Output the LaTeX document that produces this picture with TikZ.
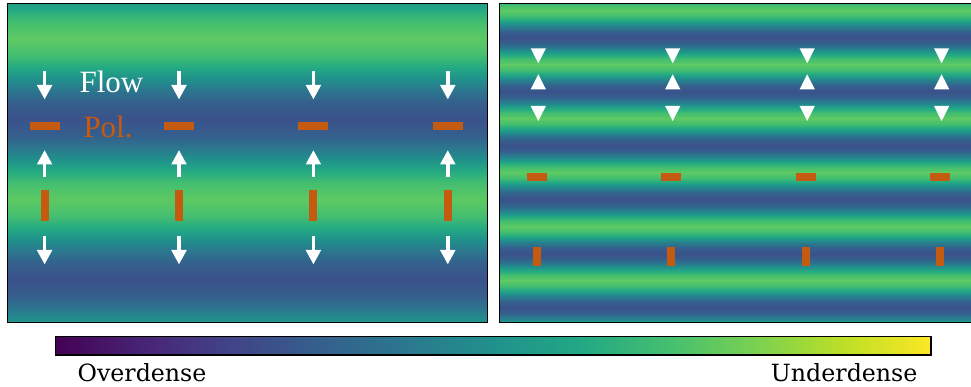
\documentclass[tikz,border=0pt]{standalone}
\usepackage{fontspec}
\setmainfont{Liberation Serif}
\newfontfamily\legendfont{Liberation Serif}
\newfontfamily\labelfont{DejaVu Serif}
\usetikzlibrary{arrows.meta}

% viridis colour map samples
\definecolor{vir00}{RGB}{68,1,84}
\definecolor{vir10}{RGB}{72,36,117}
\definecolor{vir20}{RGB}{65,68,135}
\definecolor{vir30}{RGB}{53,95,141}
\definecolor{vir40}{RGB}{42,120,142}
\definecolor{vir50}{RGB}{33,145,140}
\definecolor{vir60}{RGB}{34,168,132}
\definecolor{vir70}{RGB}{68,191,112}
\definecolor{vir80}{RGB}{122,209,81}
\definecolor{vir90}{RGB}{189,223,38}
\definecolor{vir100}{RGB}{253,231,37}
% extremes of the density field (viridis 0.25 and 0.75)
\definecolor{bandlow}{RGB}{59,82,139}
\definecolor{bandhigh}{RGB}{94,201,98}
\definecolor{polorange}{RGB}{197,90,17}

% half period of a cosine density band, low at the bottom, high at the top
\pgfdeclareverticalshading{bandshade}{100bp}{color(0bp)=(bandlow); color(25bp)=(bandlow);
  color(35.24bp)=(vir30); color(43.45bp)=(vir40); color(50bp)=(vir50);
  color(56.55bp)=(vir60); color(64.76bp)=(vir70); color(75bp)=(bandhigh); color(100bp)=(bandhigh)}

% full viridis bar
\pgfdeclarehorizontalshading{viridisbar}{100bp}{color(0bp)=(vir00); color(25bp)=(vir00);
  color(30bp)=(vir10); color(35bp)=(vir20); color(40bp)=(vir30); color(45bp)=(vir40);
  color(50bp)=(vir50); color(55bp)=(vir60); color(60bp)=(vir70); color(65bp)=(vir80);
  color(70bp)=(vir90); color(75bp)=(vir100); color(100bp)=(vir100)}

\begin{document}
\begin{tikzpicture}[x=1pt,y=-1pt,
  frame/.style={draw=black, line width=1.8pt},
  flowarrow/.style={draw=white, line width=3.5pt, -{Triangle[width=14.5pt,length=14.5pt]}},
  polbar/.style={fill=polorange},
  bandup/.style={shading=bandshade},
  banddown/.style={shading=bandshade, shading angle=180},
  lbl/.style={inner sep=0pt, outer sep=0pt},
  legendtext/.style={lbl, anchor=base west, font=\legendfont\fontsize{31}{36}\selectfont},
  bartext/.style={lbl, font=\labelfont\fontsize{23.7}{28}\selectfont}]
\clip (0,0) rectangle (971,387);
\fill[white] (0,0) rectangle (971,387);

% left panel: long-wavelength density bands
\begin{scope}
  \clip (7.5,3.5) rectangle (487.5,322.5);
  \foreach \g in {-122.5,38.5,199.5}{
    \path[bandup] (7,{\g-0.3}) rectangle (488,{\g+80.8});
    \path[banddown] (7,{\g+80.2}) rectangle (488,{\g+161.3});
  }
\end{scope}

% right panel: short-wavelength density bands
\begin{scope}
  \clip (499.5,3.5) rectangle (971,322.5);
  \foreach \k in {0,...,6}{
    \pgfmathsetmacro\g{10.5+54*\k}
    \path[banddown] (499,{\g-27.3}) rectangle (972,{\g+0.3});
    \path[bandup] (499,{\g-0.3}) rectangle (972,{\g+27.3});
  }
\end{scope}

% flow arrows and polarisation bars, left panel
\foreach \c in {44.6,179,313.4,447.8}{
  \draw[flowarrow] (\c,71) -- (\c,99.5);
  \draw[flowarrow] (\c,177.5) -- (\c,150);
  \draw[flowarrow] (\c,236) -- (\c,264.5);
  \fill[polbar] ({\c-15},121.8) rectangle ({\c+15},130.2);
  \fill[polbar] ({\c-4},190) rectangle ({\c+4},220.7);
}

% flow heads and polarisation bars, right panel
\foreach \c in {538.3,672.7,807.2,941.6}{
  \fill[white] ({\c-7.6},48.3) -- ({\c+7.6},48.3) -- (\c,63.3) -- cycle;
  \fill[white] ({\c-7.6},89.3) -- ({\c+7.6},89.3) -- (\c,74.3) -- cycle;
  \fill[white] ({\c-7.6},106) -- ({\c+7.6},106) -- (\c,121) -- cycle;
  \fill[polbar] ({\c-11.3},173) rectangle ({\c+8.7},181);
  \fill[polbar] ({\c-5.3},247) rectangle ({\c+2.7},266);
}

% panel frames (the right one runs past the edge of the figure)
\draw[frame] (7.5,3.5) rectangle (487.5,322.5);
\draw[frame] (499.5,3.5) rectangle (971.6,322.5);

% legend texts
\node[legendtext, text=white] (flow) at (79.6,92.3) {Flow};
\node[legendtext, text=polorange] (pol) at (83.5,137.3) {Pol.};

% colour bar
\shade[shading=viridisbar] (55.5,336.5) rectangle (931,355);
\draw[line width=1.3pt] (55.5,336.5) rectangle (931,355);
\node[bartext, anchor=base west] (over) at (77.6,381.7) {Overdense};
\node[bartext, anchor=base east] (under) at (917.4,381.7) {Underdense};
\end{tikzpicture}
\end{document}
